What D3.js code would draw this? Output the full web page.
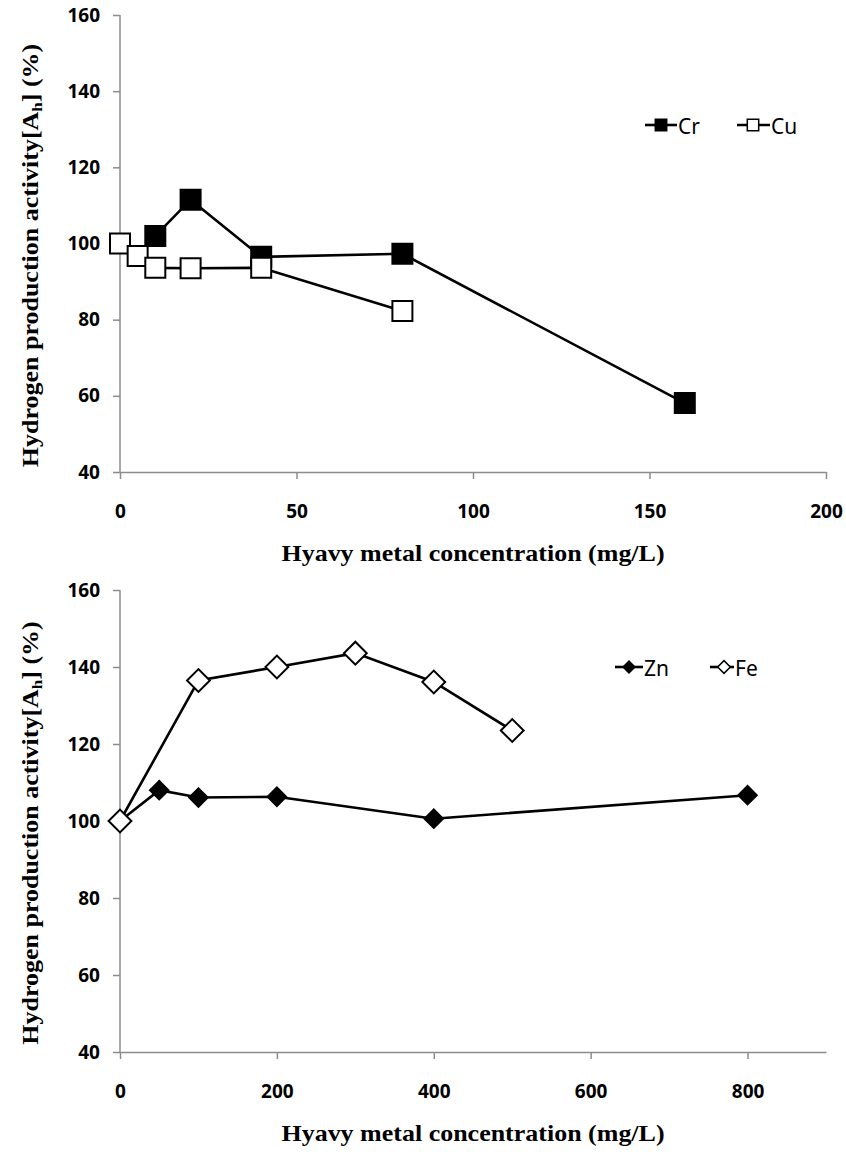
<!DOCTYPE html>
<html>
<head>
<meta charset="utf-8">
<script src="https://cdn.jsdelivr.net/npm/d3@7"></script>
<style>
  body { margin: 0; background: #fff; }
  .tick text { font-family: "Noto Sans", sans-serif; font-weight: bold; font-size: 19px; fill: #000; }
  .axis path, .axis line { stroke: #8c8c8c; stroke-width: 1.5px; }
  .ytitle, .xtitle { font-family: "Liberation Serif", serif; font-weight: bold; font-size: 23px; }
  .legend text { font-family: "Noto Sans", sans-serif; font-size: 21px; }
</style>
</head>
<body>
<div id="chart"></div>
<script>
// top panel: Cr and Cu
const crX = [10, 20, 40, 80, 160];
const crY = [102, 111.5, 96.5, 97.3, 58.1];
const cuX = [0, 5, 10, 20, 40, 80];
const cuY = [100, 96.7, 93.6, 93.5, 93.6, 82.3];
const topXTicks = [0, 50, 100, 150, 200];

// bottom panel: Zn and Fe
const znX = [0, 50, 100, 200, 400, 800];
const znY = [100, 108, 106.1, 106.3, 100.6, 106.7];
const feX = [0, 100, 200, 300, 400, 500];
const feY = [100, 136.5, 140, 143.6, 136.1, 123.5];
const botXTicks = [0, 200, 400, 600, 800];

const yTicks = [40, 60, 80, 100, 120, 140, 160];

const W = 846, H = 1157;

const svg = d3.select('#chart').append('svg')
  .attr('width', W)
  .attr('height', H);

function zip(xs, ys) { return xs.map((x, i) => ({ x: x, y: ys[i] })); }

const square = d3.symbol().type(d3.symbolSquare);

function drawPanel(p) {
  const x = d3.scaleLinear().domain(p.xDomain).range([120, 826]);
  const y = d3.scaleLinear().domain([40, 160]).range([p.bottom, p.top]);

  // y axis
  svg.append('g')
    .attr('class', 'axis')
    .attr('transform', 'translate(120,0)')
    .call(d3.axisLeft(y).tickValues(yTicks).tickSize(7).tickPadding(13).tickSizeOuter(0))
    .call(g => g.select('.domain').attr('d', 'M0,' + p.top + 'V' + p.bottom));

  // x axis
  svg.append('g')
    .attr('class', 'axis')
    .attr('transform', 'translate(0,' + p.bottom + ')')
    .call(d3.axisBottom(x).tickValues(p.xTicks).tickSize(7).tickSizeOuter(0).tickPadding(26))
    .call(g => g.selectAll('.tick text').attr('dy', '0.71em'));

  // axis titles (the original type is a little stretched)
  const yt = svg.append('text')
    .attr('class', 'ytitle')
    .attr('text-anchor', 'middle')
    .attr('transform', 'translate(38,' + ((p.top + p.bottom) / 2 + 12) + ') rotate(-90) scale(1.13,1)');
  yt.append('tspan').text('Hydrogen production activity[A');
  yt.append('tspan').attr('font-size', '15px').attr('dy', 4).text('h');
  yt.append('tspan').attr('dy', -4).text('] (%)');

  svg.append('text')
    .attr('class', 'xtitle')
    .attr('text-anchor', 'middle')
    .attr('transform', 'translate(473,' + (p.bottom + 89) + ') scale(1.13,1)')
    .text('Hyavy metal concentration (mg/L)');

  const line = d3.line().x(d => x(d.x)).y(d => y(d.y));

  p.series.forEach(s => {
    const pts = zip(s.xs, s.ys);
    svg.append('path')
      .datum(pts)
      .attr('d', line)
      .attr('fill', 'none')
      .attr('stroke', '#000')
      .attr('stroke-width', 2.6);

    svg.selectAll(null)
      .data(pts)
      .enter().append('path')
      .attr('d', square.size(s.size)())
      .attr('transform', d => 'translate(' + x(d.x) + ',' + y(d.y) + ') rotate(' + s.rot + ')')
      .attr('fill', s.fill)
      .attr('stroke', '#000')
      .attr('stroke-width', 2);
  });

  // legend
  const lg = svg.append('g').attr('class', 'legend');
  p.series.forEach(s => {
    const L = s.legend;
    lg.append('line')
      .attr('x1', L.x0).attr('x2', L.x1)
      .attr('y1', p.legendY).attr('y2', p.legendY)
      .attr('stroke', '#000').attr('stroke-width', 2.6);
    lg.append('path')
      .attr('d', square.size(s.legendSize)())
      .attr('transform', 'translate(' + L.m + ',' + p.legendY + ') rotate(' + s.rot + ')')
      .attr('fill', s.fill)
      .attr('stroke', '#000')
      .attr('stroke-width', 1.5);
    lg.append('text')
      .attr('x', L.x1 + 1)
      .attr('y', p.legendY + 9)
      .text(s.name);
  });
}

drawPanel({
  top: 15, bottom: 472,
  xDomain: [0, 200], xTicks: topXTicks,
  legendY: 125,
  series: [
    { name: 'Cr', xs: crX, ys: crY, size: 400, legendSize: 130, rot: 0, fill: '#000',
      legend: { x0: 645, x1: 677, m: 661 } },
    { name: 'Cu', xs: cuX, ys: cuY, size: 400, legendSize: 130, rot: 0, fill: '#fff',
      legend: { x0: 737, x1: 770, m: 753 } }
  ]
});

drawPanel({
  top: 590, bottom: 1052,
  xDomain: [0, 900], xTicks: botXTicks,
  legendY: 667,
  series: [
    { name: 'Zn', xs: znX, ys: znY, size: 170, legendSize: 70, rot: 45, fill: '#000',
      legend: { x0: 615, x1: 643, m: 629 } },
    { name: 'Fe', xs: feX, ys: feY, size: 260, legendSize: 80, rot: 45, fill: '#fff',
      legend: { x0: 710, x1: 734, m: 724 } }
  ]
});
</script>
</body>
</html>
